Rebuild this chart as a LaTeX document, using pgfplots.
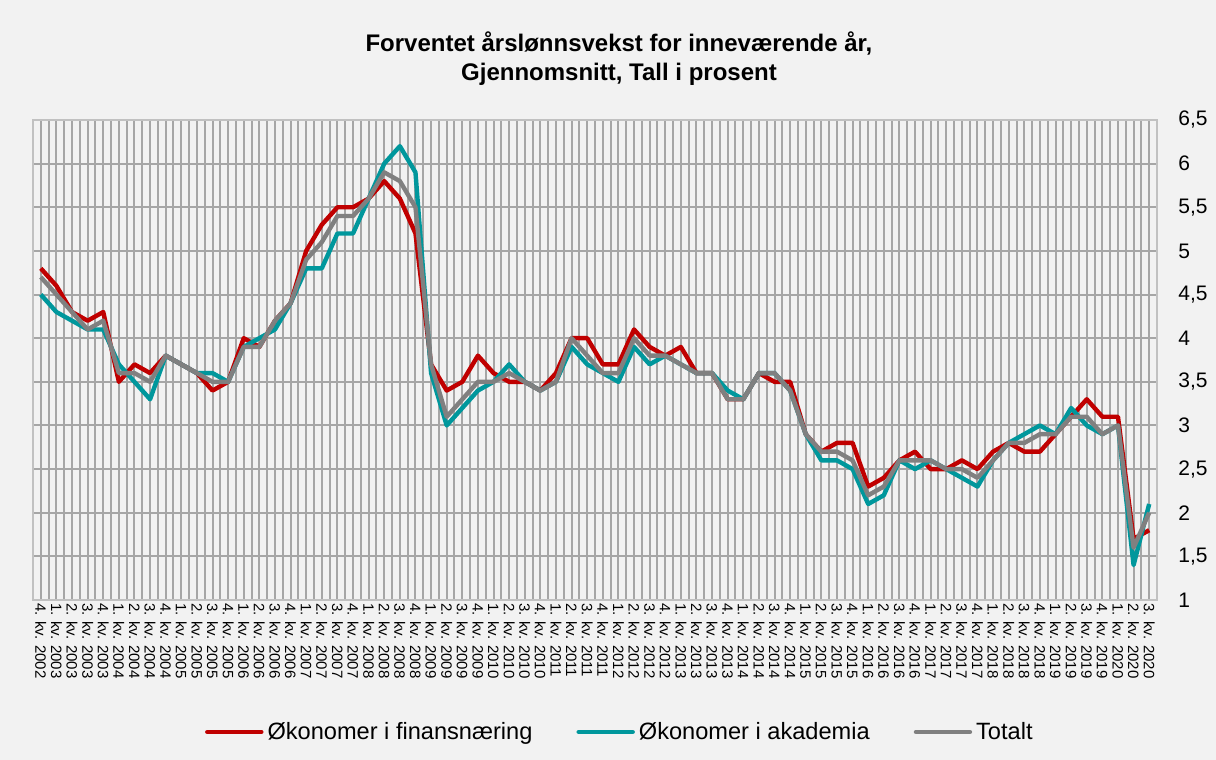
\documentclass[border=0pt]{standalone}
\usepackage{fontspec}
\setmainfont{Liberation Sans}
\usepackage{pgfplots}
\pgfplotsset{compat=1.18}
\usepackage{pgfplotstable}
\definecolor{bg}{HTML}{F2F2F2}
\definecolor{gridc}{HTML}{A6A6A6}
\definecolor{finc}{HTML}{C00000}
\definecolor{akc}{HTML}{00979C}
\definecolor{totc}{HTML}{808080}

\pgfplotstableread{
i fin akad tot
0 4.8 4.5 4.7
1 4.6 4.3 4.5
2 4.3 4.2 4.3
3 4.2 4.1 4.1
4 4.3 4.1 4.2
5 3.5 3.7 3.6
6 3.7 3.5 3.6
7 3.6 3.3 3.5
8 3.8 3.8 3.8
9 3.7 3.7 3.7
10 3.6 3.6 3.6
11 3.4 3.6 3.5
12 3.5 3.5 3.5
13 4.0 3.9 3.9
14 3.9 4.0 3.9
15 4.2 4.1 4.2
16 4.4 4.4 4.4
17 5.0 4.8 4.9
18 5.3 4.8 5.1
19 5.5 5.2 5.4
20 5.5 5.2 5.4
21 5.6 5.6 5.6
22 5.8 6.0 5.9
23 5.6 6.2 5.8
24 5.2 5.9 5.5
25 3.7 3.6 3.7
26 3.4 3.0 3.1
27 3.5 3.2 3.3
28 3.8 3.4 3.5
29 3.6 3.5 3.5
30 3.5 3.7 3.6
31 3.5 3.5 3.5
32 3.4 3.4 3.4
33 3.6 3.5 3.5
34 4.0 3.9 4.0
35 4.0 3.7 3.8
36 3.7 3.6 3.6
37 3.7 3.5 3.6
38 4.1 3.9 4.0
39 3.9 3.7 3.8
40 3.8 3.8 3.8
41 3.9 3.7 3.7
42 3.6 3.6 3.6
43 3.6 3.6 3.6
44 3.3 3.4 3.3
45 3.3 3.3 3.3
46 3.6 3.6 3.6
47 3.5 3.6 3.6
48 3.5 3.4 3.4
49 2.9 2.9 2.9
50 2.7 2.6 2.7
51 2.8 2.6 2.7
52 2.8 2.5 2.6
53 2.3 2.1 2.2
54 2.4 2.2 2.3
55 2.6 2.6 2.6
56 2.7 2.5 2.6
57 2.5 2.6 2.6
58 2.5 2.5 2.5
59 2.6 2.4 2.5
60 2.5 2.3 2.4
61 2.7 2.6 2.6
62 2.8 2.8 2.8
63 2.7 2.9 2.8
64 2.7 3.0 2.9
65 2.9 2.9 2.9
66 3.1 3.2 3.1
67 3.3 3.0 3.1
68 3.1 2.9 2.9
69 3.1 3.0 3.0
70 1.7 1.4 1.6
71 1.8 2.1 2.0
}\data

\begin{document}
\begin{tikzpicture}
\fill[bg] (0,0) rectangle (608pt,380pt);
\node[align=center, font=\bfseries\fontsize{12}{14.5}\selectfont] at (309.5pt,350.75pt)
  {Forventet årslønnsvekst for inneværende år,\\Gjennomsnitt, Tall i prosent};
\begin{axis}[
  at={(16.5pt,80pt)}, anchor=south west,
  scale only axis, width=562pt, height=240pt,
  xmin=-0.5, xmax=71.5, ymin=1, ymax=6.5,
  xtick={0,...,71},
  minor xtick={-0.5,0.5,...,71.5},
  xticklabels={4. kv. 2002,
    1. kv. 2003, 2. kv. 2003, 3. kv. 2003, 4. kv. 2003,
    1. kv. 2004, 2. kv. 2004, 3. kv. 2004, 4. kv. 2004,
    1. kv. 2005, 2. kv. 2005, 3. kv. 2005, 4. kv. 2005,
    1. kv. 2006, 2. kv. 2006, 3. kv. 2006, 4. kv. 2006,
    1. kv. 2007, 2. kv. 2007, 3. kv. 2007, 4. kv. 2007,
    1. kv. 2008, 2. kv. 2008, 3. kv. 2008, 4. kv. 2008,
    1. kv. 2009, 2. kv. 2009, 3. kv. 2009, 4. kv. 2009,
    1. kv. 2010, 2. kv. 2010, 3. kv. 2010, 4. kv. 2010,
    1. kv. 2011, 2. kv. 2011, 3. kv. 2011, 4. kv. 2011,
    1. kv. 2012, 2. kv. 2012, 3. kv. 2012, 4. kv. 2012,
    1. kv. 2013, 2. kv. 2013, 3. kv. 2013, 4. kv. 2013,
    1. kv. 2014, 2. kv. 2014, 3. kv. 2014, 4. kv. 2014,
    1. kv. 2015, 2. kv. 2015, 3. kv. 2015, 4. kv. 2015,
    1. kv. 2016, 2. kv. 2016, 3. kv. 2016, 4. kv. 2016,
    1. kv. 2017, 2. kv. 2017, 3. kv. 2017, 4. kv. 2017,
    1. kv. 2018, 2. kv. 2018, 3. kv. 2018, 4. kv. 2018,
    1. kv. 2019, 2. kv. 2019, 3. kv. 2019, 4. kv. 2019,
    1. kv. 2020, 2. kv. 2020, 3. kv. 2020},
  ytick={1,1.5,2,2.5,3,3.5,4,4.5,5,5.5,6,6.5},
  yticklabel pos=right,
  grid=both,
  major grid style={gridc, line width=1pt},
  minor grid style={gridc, line width=1pt},
  major tick length=0pt, minor tick length=0pt,
  axis line style={gridc!70, line width=1pt},
  /pgf/number format/assume math mode=true,
  /pgf/number format/use comma,
  yticklabel style={font=\fontsize{10.5}{12}\selectfont, anchor=west, inner sep=0pt, xshift=10.5pt},
  xticklabel style={font=\fontsize{7.5}{9}\selectfont, rotate=-90, anchor=west, inner sep=1.5pt},
  legend columns=3,
  legend style={at={(axis description cs:0.523,-0.275)}, anchor=center, draw=none, fill=none,
    font=\fontsize{11.8}{14}\selectfont, inner sep=0pt,
    /tikz/every even column/.append style={column sep=20pt}},
  legend image code/.code={\draw[#1, line width=2.2pt, line cap=round] (0pt,0pt) -- (27pt,0pt);},
  every axis plot/.append style={line width=2.2pt, line join=round, mark=none},
]
\addplot[finc] table[x=i, y=fin] {\data};
\addlegendentry{Økonomer i finansnæring}
\addplot[akc] table[x=i, y=akad] {\data};
\addlegendentry{Økonomer i akademia}
\addplot[totc] table[x=i, y=tot] {\data};
\addlegendentry{Totalt}
\end{axis}
\pgfresetboundingbox
\path[use as bounding box] (0,0) rectangle (608pt,380pt);
\end{tikzpicture}
\end{document}
